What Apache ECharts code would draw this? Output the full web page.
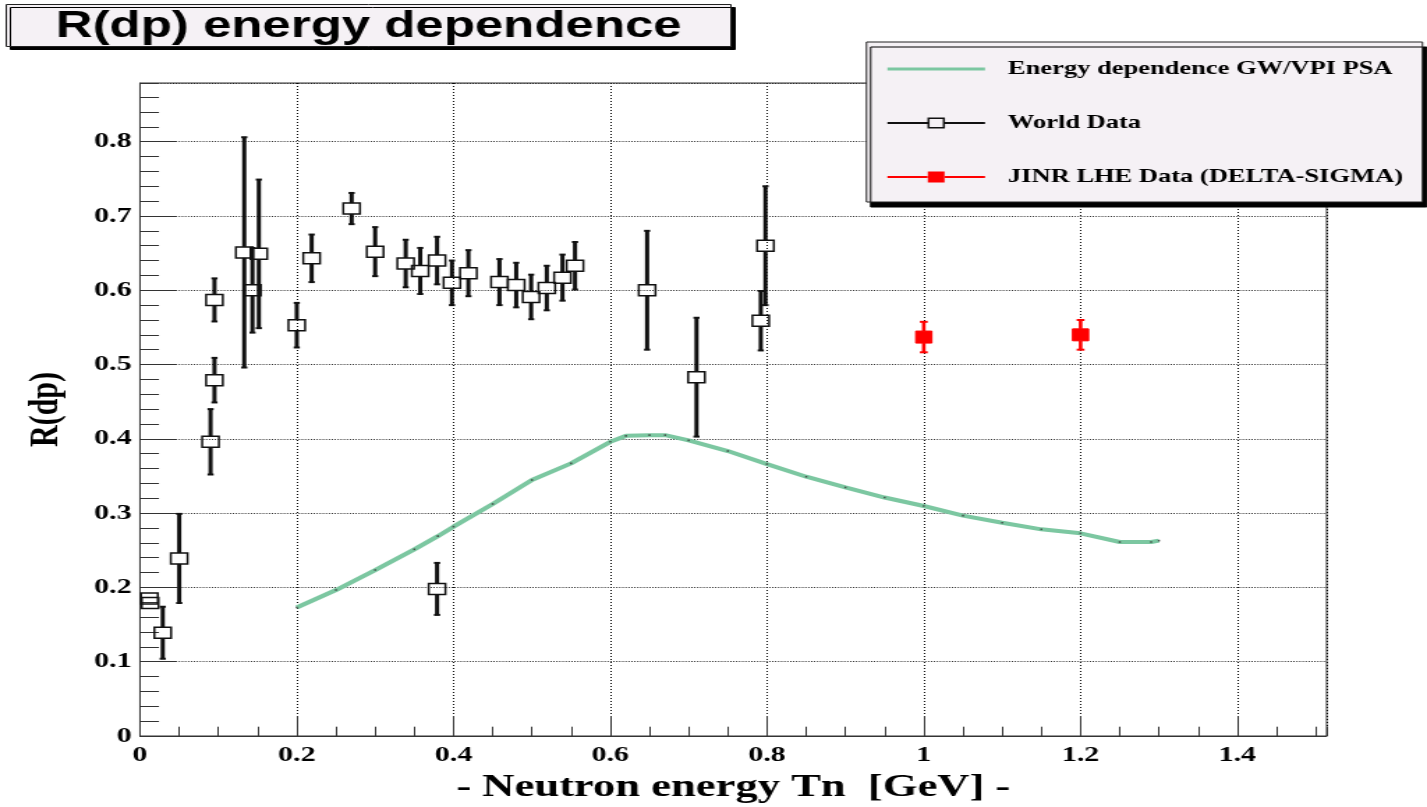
<!DOCTYPE html>
<html>
<head>
<meta charset="utf-8">
<title>R(dp) energy dependence</title>
<script src="https://cdn.jsdelivr.net/npm/echarts@6/dist/echarts.min.js"></script>
<style>
  html, body { margin: 0; padding: 0; background: #fff; overflow: hidden; }
  /* The canvas is laid out on a 1024px wide page and stretched to 1427px */
  #chart { width: 1024px; height: 807px; transform: scaleX(1.39355); transform-origin: 0 0; }
</style>
</head>
<body>
<div id="chart"></div>
<script>
// ---- Series names ----
const seriesNames = ['Energy dependence GW/VPI PSA', 'World Data', 'JINR LHE Data (DELTA-SIGMA)'];

// ---- GW/VPI PSA energy dependence curve ----
const psaTn = [0.2, 0.25, 0.3, 0.35, 0.38, 0.4, 0.45, 0.5, 0.55, 0.6, 0.62, 0.65, 0.67, 0.7,
               0.75, 0.8, 0.85, 0.9, 0.95, 1.0, 1.05, 1.1, 1.15, 1.2, 1.25, 1.29, 1.3];
const psaR  = [0.173, 0.1965, 0.2234, 0.2513, 0.269, 0.2818, 0.3123, 0.3446, 0.367, 0.396, 0.404, 0.405, 0.405, 0.398,
               0.3836, 0.366, 0.349, 0.3346, 0.321, 0.3096, 0.2966, 0.2871, 0.2782, 0.2728, 0.2611, 0.2611, 0.263];

// ---- World data: energy, R(dp), error ----
const worldTn  = [0.012, 0.013, 0.029, 0.050, 0.090, 0.095, 0.095, 0.133, 0.1435, 0.1516,
                  0.200, 0.219, 0.270, 0.300, 0.339, 0.3575, 0.379, 0.379, 0.398, 0.419,
                  0.4586, 0.480, 0.499, 0.519, 0.539, 0.555, 0.647, 0.710, 0.792, 0.798];
const worldR   = [0.185, 0.179, 0.139, 0.239, 0.396, 0.479, 0.587, 0.651, 0.600, 0.649,
                  0.553, 0.643, 0.710, 0.652, 0.636, 0.626, 0.640, 0.198, 0.610, 0.623,
                  0.611, 0.607, 0.591, 0.603, 0.617, 0.633, 0.600, 0.483, 0.559, 0.660];
const worldErr = [0.003, 0.003, 0.035, 0.060, 0.044, 0.030, 0.029, 0.155, 0.057, 0.100,
                  0.030, 0.032, 0.021, 0.033, 0.032, 0.031, 0.032, 0.035, 0.030, 0.031,
                  0.031, 0.030, 0.030, 0.030, 0.031, 0.032, 0.080, 0.080, 0.040, 0.080];

// ---- JINR LHE (DELTA-SIGMA) data ----
const jinrTn  = [1.0, 1.2];
const jinrR   = [0.537, 0.540];
const jinrErr = [0.0205, 0.020];

// ---- Axis ranges and tick steps ----
const xRange = [0, 1.514];
const yRange = [0, 0.879];
const xMajorStep = 0.2, xMinorStep = 0.05;
const yMajorStep = 0.1, yMinorStep = 0.02;

const GREEN = '#7cc7a1';
const SERIF = 'Liberation Serif';
const PANEL = '#f5f1f5';

const psaData   = psaTn.map((x, i) => [x, psaR[i]]);
const worldData = worldTn.map((x, i) => [x, worldR[i], worldErr[i]]);
const jinrData  = jinrTn.map((x, i) => [x, jinrR[i], jinrErr[i]]);

// Marker with vertical error bars (bars start at the marker edge, capped at the ends)
function errorMarker(opts) {
  return function (params, api) {
    const x = api.value(0), y = api.value(1), e = api.value(2);
    const c  = api.coord([x, y]);
    const hi = api.coord([x, y + e]);
    const lo = api.coord([x, y - e]);
    const color = api.visual('color');
    const top = c[1] - opts.boxH / 2, bottom = c[1] + opts.boxH / 2;
    const kids = [];
    if (hi[1] < top - 0.5) {
      kids.push({ type: 'line', shape: { x1: c[0], y1: top, x2: c[0], y2: hi[1] },
                  style: { stroke: color, lineWidth: opts.barW } });
      kids.push({ type: 'line', shape: { x1: c[0] - opts.cap, y1: hi[1], x2: c[0] + opts.cap, y2: hi[1] },
                  style: { stroke: color, lineWidth: 2 } });
    }
    if (lo[1] > bottom + 0.5) {
      kids.push({ type: 'line', shape: { x1: c[0], y1: bottom, x2: c[0], y2: lo[1] },
                  style: { stroke: color, lineWidth: opts.barW } });
      kids.push({ type: 'line', shape: { x1: c[0] - opts.cap, y1: lo[1], x2: c[0] + opts.cap, y2: lo[1] },
                  style: { stroke: color, lineWidth: 2 } });
    }
    kids.push({ type: 'rect',
                shape: { x: c[0] - opts.boxW / 2, y: top, width: opts.boxW, height: opts.boxH },
                style: { fill: opts.filled ? color : null, stroke: color, lineWidth: opts.boxLine } });
    return { type: 'group', children: kids };
  };
}

// Legend glyphs: line sample, line with open square, line with filled square
const iconLine   = 'path://M0,4.5H70V7.5H0Z';
const iconOpen   = 'path://M0,5H28.75V7H0Z M41.25,5H70V7H41.25Z M28.75,0.5H41.25V11.5H28.75Z M30.25,2V10H39.75V2Z';
const iconFilled = 'path://M0,5H28.75V7H0Z M41.25,5H70V7H41.25Z M29,0.5H41V11.5H29Z';

const tickLabel = { fontFamily: SERIF, fontWeight: 'bold', fontSize: 21.5, color: '#000' };

const option = {
  animation: false,
  backgroundColor: '#fff',
  title: {
    text: 'R(dp) energy dependence',
    left: 4, top: 5,
    padding: [4, 36, 1, 36],
    backgroundColor: PANEL, borderColor: '#222', borderWidth: 1,
    shadowColor: '#000', shadowBlur: 0, shadowOffsetX: 3, shadowOffsetY: 3,
    textStyle: { fontFamily: 'Liberation Sans', fontWeight: 'bold', fontSize: 36.6, lineHeight: 36, color: '#000' }
  },
  legend: {
    orient: 'vertical', left: 621.8, top: 42,
    padding: [17, 14, 15, 15],
    itemWidth: 70, itemHeight: 12, itemGap: 34,
    backgroundColor: PANEL, borderColor: '#222', borderWidth: 1,
    shadowColor: '#000', shadowBlur: 0, shadowOffsetX: 3, shadowOffsetY: 5,
    selectedMode: false,
    itemStyle: { borderWidth: 0 },
    textStyle: { fontFamily: SERIF, fontWeight: 'bold', fontSize: 19, lineHeight: 20, color: '#000', padding: [0, 0, 0, 11.5] },
    data: [
      { name: seriesNames[0], icon: iconLine,   itemStyle: { color: GREEN } },
      { name: seriesNames[1], icon: iconOpen,   itemStyle: { color: '#111' } },
      { name: seriesNames[2], icon: iconFilled, itemStyle: { color: '#ff0000' } }
    ]
  },
  grid: {
    left: 100.46, right: 72, top: 83, bottom: 71,
    outerBoundsMode: 'none',
    show: true, backgroundColor: '#fff', borderColor: '#333', borderWidth: 1
  },
  xAxis: [
    {
      type: 'value', position: 'bottom', min: xRange[0], max: xRange[1], interval: xMajorStep,
      axisLine: { show: true, onZero: false, lineStyle: { color: '#333', width: 1 } },
      axisTick: { show: true, inside: true, length: 20, lineStyle: { color: '#333', width: 1 } },
      axisLabel: Object.assign({ margin: 8, showMaxLabel: false }, tickLabel),
      splitLine: { show: true, lineStyle: { color: '#000', width: 1, type: [1, 2] } },
      name: '- Neutron energy Tn  [GeV] -',
      nameLocation: 'middle', nameGap: 36,
      nameTextStyle: { fontFamily: SERIF, fontWeight: 'bold', fontSize: 32, color: '#000' }
    },
    {
      type: 'value', position: 'bottom', min: xRange[0], max: xRange[1], interval: xMinorStep,
      axisLine: { show: false },
      axisTick: { show: true, inside: true, length: 9.3, lineStyle: { color: '#333', width: 1 } },
      axisLabel: { show: false },
      splitLine: { show: false }
    }
  ],
  yAxis: [
    {
      type: 'value', position: 'left', min: yRange[0], max: yRange[1], interval: yMajorStep,
      axisLine: { show: true, onZero: false, lineStyle: { color: '#333', width: 1 } },
      axisTick: { show: true, inside: true, length: 26.5, lineStyle: { color: '#333', width: 1 } },
      axisLabel: Object.assign({ margin: 6, showMaxLabel: false }, tickLabel),
      splitLine: { show: true, lineStyle: { color: '#000', width: 1, type: [0.8, 1.35] } },
      name: 'R(dp)',
      nameLocation: 'middle', nameRotate: 90, nameGap: 52,
      nameTextStyle: { fontFamily: SERIF, fontWeight: 'bold', fontSize: 30, color: '#000' }
    },
    {
      type: 'value', position: 'left', min: yRange[0], max: yRange[1], interval: yMinorStep,
      axisLine: { show: false },
      axisTick: { show: true, inside: true, length: 13.6, lineStyle: { color: '#333', width: 1 } },
      axisLabel: { show: false },
      splitLine: { show: false }
    }
  ],
  series: [
    {
      name: seriesNames[0], type: 'line', xAxisIndex: 0, yAxisIndex: 0,
      data: psaData, symbol: 'none', silent: true, z: 3,
      lineStyle: { color: GREEN, width: 4 }, itemStyle: { color: GREEN }
    },
    {
      // small point markers along the PSA curve
      type: 'scatter', xAxisIndex: 0, yAxisIndex: 0,
      data: psaData, symbol: 'rect', symbolSize: [1.5, 1.6], silent: true, z: 4,
      itemStyle: { color: '#333' }
    },
    {
      name: seriesNames[1], type: 'custom', xAxisIndex: 0, yAxisIndex: 0, z: 5,
      data: worldData, encode: { x: 0, y: 1 }, silent: true,
      itemStyle: { color: '#111' },
      renderItem: errorMarker({ boxW: 12, boxH: 11, cap: 2.2, barW: 3, boxLine: 1.5, filled: false })
    },
    {
      name: seriesNames[2], type: 'custom', xAxisIndex: 0, yAxisIndex: 0, z: 5,
      data: jinrData, encode: { x: 0, y: 1 }, silent: true,
      itemStyle: { color: '#ff0000' },
      renderItem: errorMarker({ boxW: 11.5, boxH: 12, cap: 2.8, barW: 2.6, boxLine: 1, filled: true })
    }
  ]
};

const chart = echarts.init(document.getElementById('chart'));
chart.setOption(option);
</script>
</body>
</html>
